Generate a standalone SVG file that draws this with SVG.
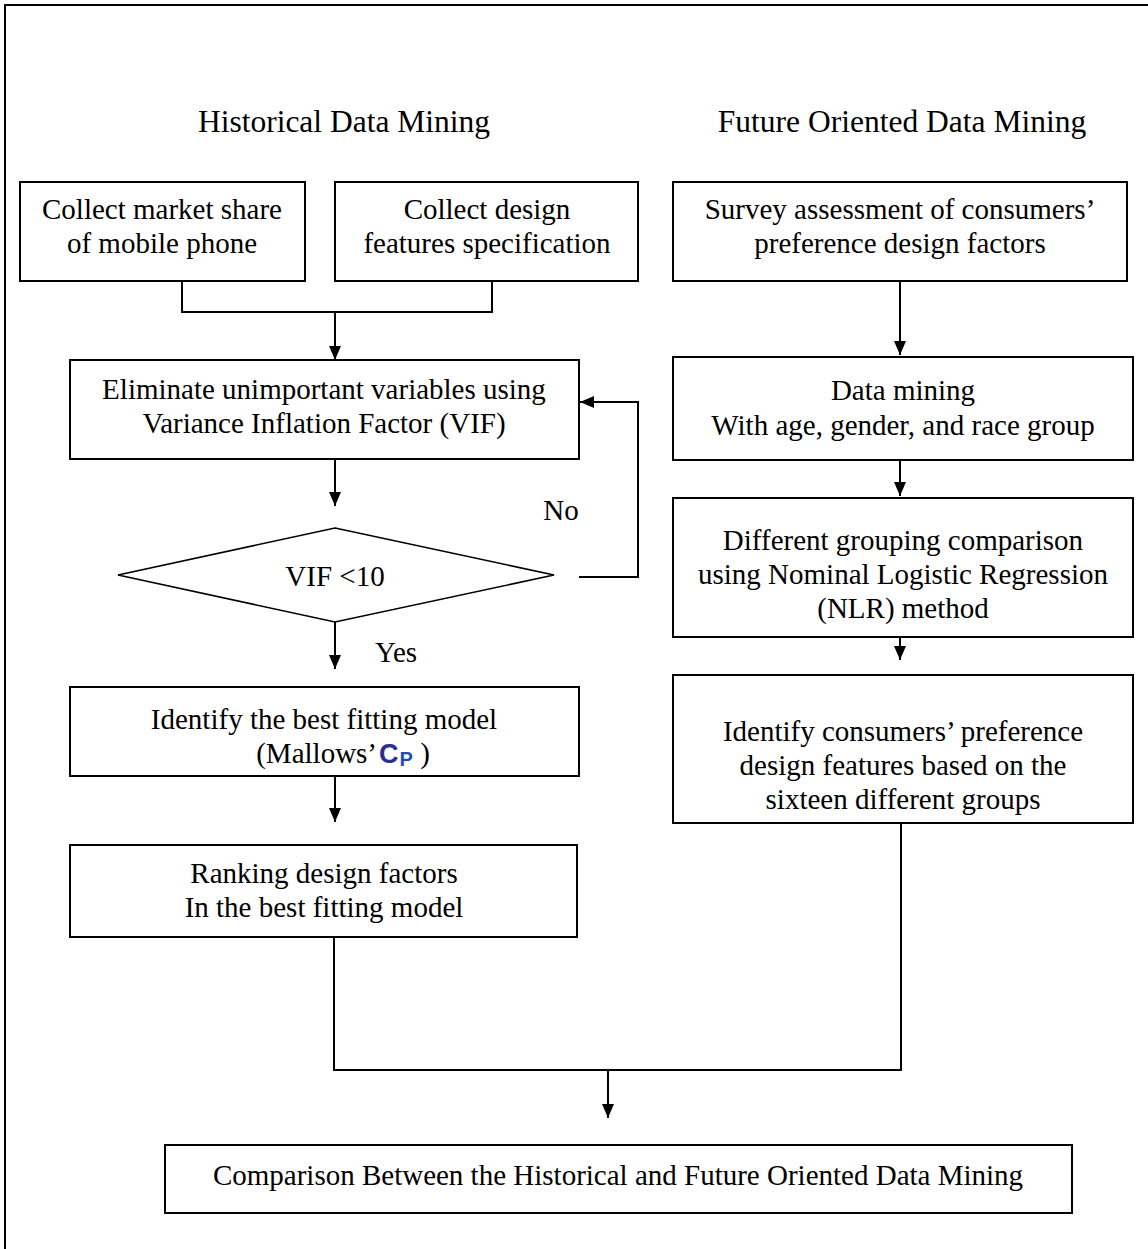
<svg xmlns="http://www.w3.org/2000/svg" width="1148" height="1249" viewBox="0 0 1148 1249">
<defs>
<marker id="arr" viewBox="0 0 14 12" refX="14" refY="6" markerWidth="14" markerHeight="12" markerUnits="userSpaceOnUse" orient="auto">
<path d="M0,0 L14,6 L0,12 Z" fill="#000"/>
</marker>
</defs>
<style>
.box{fill:#fff;stroke:#000;stroke-width:2}
.t{font-family:"Liberation Serif","Times New Roman",serif;font-size:29px;fill:#000;text-anchor:middle}
.h{font-size:31.5px}
.c{fill:none;stroke:#000;stroke-width:2}
.a{fill:none;stroke:#000;stroke-width:2;marker-end:url(#arr)}
</style>
<rect width="1148" height="1249" fill="#fff"/>
<path d="M5,1249 V5 H1148" fill="none" stroke="#000" stroke-width="2"/>
<text class="t h" x="344" y="132">Historical Data Mining</text>
<text class="t h" x="902" y="132">Future Oriented Data Mining</text>

<g id="connectors">
<path class="c" d="M182,281 V312 H492 V281"/>
<path class="a" d="M335,312 V360"/>
<path class="a" d="M335,459 V506"/>
<path class="a" d="M579,577 H638 V402 H580"/>
<path class="a" d="M335,622 V669"/>
<path class="a" d="M335,776 V822"/>
<path class="a" d="M900,281 V355"/>
<path class="a" d="M900,460 V496"/>
<path class="a" d="M900,637 V660"/>
<path class="c" d="M334,937 V1070 H901 V823"/>
<path class="a" d="M608,1070 V1118"/>
<text class="t" x="561" y="520">No</text>
<text class="t" x="396" y="662">Yes</text>
</g>

<g id="n_market">
<rect class="box" x="20" y="182" width="285" height="99"/>
<text class="t" x="162" y="219">Collect market share</text>
<text class="t" x="162" y="253">of mobile phone</text>
</g>
<g id="n_design">
<rect class="box" x="335" y="182" width="303" height="99"/>
<text class="t" x="487" y="219">Collect design</text>
<text class="t" x="487" y="253">features specification</text>
</g>
<g id="n_survey">
<rect class="box" x="673" y="182" width="454" height="99"/>
<text class="t" x="900" y="219">Survey assessment of consumers’</text>
<text class="t" x="900" y="253">preference design factors</text>
</g>
<g id="n_eliminate">
<rect class="box" x="70" y="360" width="509" height="99"/>
<text class="t" x="324" y="399">Eliminate unimportant variables using</text>
<text class="t" x="324" y="433">Variance Inflation Factor (VIF)</text>
</g>
<g id="n_vif">
<polygon points="335,528 554,575 335,622 118,575" fill="#fff" stroke="#000" stroke-width="1.5"/>
<text class="t" x="335" y="586">VIF &lt;10</text>
</g>
<g id="n_identify">
<rect class="box" x="70" y="687" width="509" height="89"/>
<text class="t" x="324" y="729">Identify the best fitting model</text>
<text class="t" x="343" y="763">(Mallows’<tspan font-family="Liberation Sans, Arial, sans-serif" font-weight="bold" font-size="27" fill="#2b2f8f" dx="2">C</tspan><tspan font-family="Liberation Sans, Arial, sans-serif" font-weight="bold" font-size="20" fill="#1f4fa8" dy="3" dx="1">P</tspan><tspan dy="-3"> )</tspan></text>
</g>
<g id="n_ranking">
<rect class="box" x="70" y="845" width="507" height="92"/>
<text class="t" x="324" y="883">Ranking design factors</text>
<text class="t" x="324" y="917">In the best fitting model</text>
</g>
<g id="n_datamining">
<rect class="box" x="673" y="357" width="460" height="103"/>
<text class="t" x="903" y="400">Data mining</text>
<text class="t" x="903" y="435">With age, gender, and race group</text>
</g>
<g id="n_grouping">
<rect class="box" x="673" y="498" width="460" height="139"/>
<text class="t" x="903" y="550">Different grouping comparison</text>
<text class="t" x="903" y="584">using Nominal Logistic Regression</text>
<text class="t" x="903" y="618">(NLR) method</text>
</g>
<g id="n_identify2">
<rect class="box" x="673" y="675" width="460" height="148"/>
<text class="t" x="903" y="741">Identify consumers’ preference</text>
<text class="t" x="903" y="775">design features based on the</text>
<text class="t" x="903" y="809">sixteen different groups</text>
</g>
<g id="n_comparison">
<rect class="box" x="165" y="1145" width="907" height="68"/>
<text class="t" x="618" y="1185">Comparison Between the Historical and Future Oriented Data Mining</text>
</g>
</svg>
